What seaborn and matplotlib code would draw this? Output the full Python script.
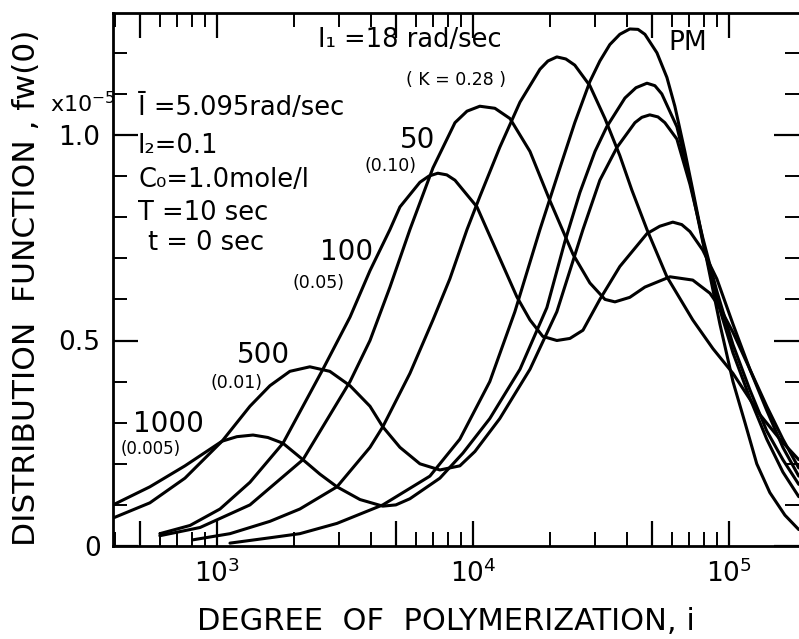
import numpy as np
import pandas as pd
import matplotlib
matplotlib.use("Agg")
import matplotlib.pyplot as plt
import seaborn as sns
from matplotlib.ticker import FixedLocator, LogLocator, MultipleLocator, FixedFormatter, NullFormatter

# ---- data: log10(degree of polymerization) and fw(0) [x1e-5]
pm_logi = [3.051, 3.207, 3.324, 3.469, 3.648, 3.832, 3.949, 4.066, 4.164, 4.262, 4.340, 4.398,
           4.457, 4.496, 4.535, 4.574, 4.613, 4.645, 4.672, 4.719, 4.758, 4.789, 4.828, 4.859,
           4.906, 4.965, 5.016, 5.063, 5.109, 5.160, 5.219, 5.273]
pm_fw = [0.007, 0.02, 0.03, 0.055, 0.10, 0.17, 0.26, 0.40, 0.57, 0.77, 0.92, 1.03,
         1.13, 1.18, 1.22, 1.245, 1.258, 1.257, 1.245, 1.20, 1.14, 1.07, 0.96, 0.866,
         0.72, 0.54, 0.40, 0.30, 0.20, 0.13, 0.075, 0.04]

i1000_logi = [2.594, 2.738, 2.875, 3.020, 3.078, 3.141, 3.199, 3.258, 3.336, 3.402, 3.469, 3.559,
              3.648, 3.699, 3.754, 3.871, 3.961, 4.066, 4.184, 4.289, 4.359, 4.418, 4.477, 4.523,
              4.594, 4.637, 4.680, 4.711, 4.738, 4.797, 4.848, 4.898, 4.953, 5.016, 5.082, 5.148,
              5.211, 5.273]
i1000_fw = [0.10, 0.144, 0.195, 0.255, 0.266, 0.27, 0.264, 0.25, 0.21, 0.175, 0.144, 0.113,
            0.097, 0.10, 0.115, 0.165, 0.226, 0.31, 0.43, 0.58, 0.74, 0.86, 0.96, 1.02,
            1.09, 1.115, 1.126, 1.12, 1.10, 1.02, 0.89, 0.74, 0.60, 0.47, 0.36, 0.26,
            0.18, 0.12]

i500_logi = [2.594, 2.738, 2.875, 3.020, 3.129, 3.207, 3.285, 3.363, 3.441, 3.520, 3.598, 3.648,
             3.715, 3.793, 3.871, 3.949, 4.008, 4.105, 4.223, 4.328, 4.430, 4.496, 4.563, 4.633,
             4.660, 4.691, 4.723, 4.750, 4.797, 4.848, 4.898, 4.953, 5.016, 5.082, 5.148, 5.211,
             5.273]
i500_fw = [0.068, 0.105, 0.165, 0.255, 0.34, 0.39, 0.425, 0.436, 0.425, 0.39, 0.34, 0.29,
           0.24, 0.20, 0.185, 0.195, 0.23, 0.31, 0.43, 0.57, 0.77, 0.89, 0.97, 1.03,
           1.043, 1.049, 1.044, 1.03, 0.99, 0.88, 0.75, 0.62, 0.49, 0.38, 0.28, 0.21,
           0.15]

i100_logi = [2.777, 2.895, 3.012, 3.129, 3.258, 3.414, 3.520, 3.598, 3.676, 3.715, 3.793, 3.828,
             3.863, 3.898, 3.930, 4.016, 4.055, 4.105, 4.172, 4.223, 4.273, 4.328, 4.379, 4.430,
             4.496, 4.574, 4.680, 4.730, 4.781, 4.816, 4.848, 4.898, 4.953, 5.016, 5.082, 5.148,
             5.211, 5.273]
i100_fw = [0.03, 0.05, 0.09, 0.155, 0.25, 0.43, 0.557, 0.67, 0.77, 0.825, 0.885, 0.90,
           0.907, 0.903, 0.89, 0.825, 0.77, 0.70, 0.606, 0.55, 0.51, 0.50, 0.505, 0.525,
           0.60, 0.68, 0.76, 0.778, 0.788, 0.782, 0.765, 0.72, 0.65, 0.54, 0.43, 0.33,
           0.24, 0.17]

i50_logi = [2.777, 2.934, 3.129, 3.336, 3.520, 3.598, 3.676, 3.754, 3.844, 3.930, 3.977, 4.027,
            4.086, 4.145, 4.223, 4.301, 4.391, 4.457, 4.516, 4.555, 4.613, 4.672, 4.770, 4.859,
            4.926, 4.965, 5.016, 5.082, 5.148, 5.211, 5.273]
i50_fw = [0.025, 0.045, 0.10, 0.21, 0.40, 0.50, 0.63, 0.77, 0.92, 1.03, 1.058, 1.07,
          1.065, 1.04, 0.96, 0.84, 0.71, 0.64, 0.60, 0.594, 0.605, 0.63, 0.655, 0.647,
          0.615, 0.58, 0.52, 0.43, 0.34, 0.26, 0.19]

i18_logi = [2.906, 3.051, 3.207, 3.324, 3.469, 3.598, 3.648, 3.754, 3.844, 3.910, 3.977, 4.027,
            4.105, 4.184, 4.262, 4.293, 4.328, 4.363, 4.398, 4.457, 4.516, 4.574, 4.621, 4.680,
            4.758, 4.859, 4.938, 5.016, 5.121, 5.199, 5.273]
i18_fw = [0.015, 0.03, 0.06, 0.09, 0.144, 0.24, 0.29, 0.42, 0.55, 0.65, 0.77, 0.85,
          0.97, 1.08, 1.16, 1.18, 1.19, 1.185, 1.17, 1.12, 1.04, 0.95, 0.866, 0.77,
          0.655, 0.55, 0.48, 0.42, 0.32, 0.26, 0.21]

curve_names = ["PM", "1000", "500", "100", "50", "18"]
curve_logi = [pm_logi, i1000_logi, i500_logi, i100_logi, i50_logi, i18_logi]
curve_fw = [pm_fw, i1000_fw, i500_fw, i100_fw, i50_fw, i18_fw]

x_tick_values = [5e2, 1e3, 5e3, 1e4, 5e4, 1e5]
x_tick_labels = ["", r"$10^3$", "", r"$10^4$", "", r"$10^5$"]
y_tick_values = [0, 0.5, 1.0]
y_tick_labels = ["0", "0.5", "1.0"]

frames = []
for name, lx, fw in zip(curve_names, curve_logi, curve_fw):
    frames.append(pd.DataFrame({"DP": np.power(10.0, lx), "fw": fw, "curve": name}))
df = pd.concat(frames, ignore_index=True)

sns.set_theme(style="ticks")
plt.rcParams["font.family"] = ["DejaVu Sans"]
plt.rcParams["mathtext.fontset"] = "dejavusans"
plt.rcParams["text.color"] = "black"
plt.rcParams["axes.labelcolor"] = "black"
plt.rcParams["lines.solid_joinstyle"] = "round"

W, H = 799, 639
fig = plt.figure(figsize=(W / 100, H / 100), dpi=100)
ax = fig.add_axes([113 / W, (H - 546) / H, (W - 113) / W, (546 - 13) / H])

sns.lineplot(data=df, x="DP", y="fw", hue="curve", palette={n: "black" for n in curve_names},
             estimator=None, sort=False, legend=False, linewidth=2.2, ax=ax)

ax.set_xscale("log")
ax.set_xlim(10 ** 2.594, 10 ** 5.274)
ax.set_ylim(0, 533 / 411)

ax.xaxis.set_major_locator(FixedLocator(x_tick_values))
ax.xaxis.set_major_formatter(FixedFormatter(x_tick_labels))
ax.xaxis.set_minor_locator(LogLocator(base=10, subs=[2, 3, 4, 6, 7, 8, 9]))
ax.xaxis.set_minor_formatter(NullFormatter())
ax.yaxis.set_major_locator(FixedLocator(y_tick_values))
ax.yaxis.set_major_formatter(FixedFormatter(y_tick_labels))
ax.yaxis.set_minor_locator(MultipleLocator(0.1))

ax.tick_params(axis="both", which="both", direction="in", top=True, right=True,
               color="black", labelcolor="black", labelsize=19)
ax.tick_params(axis="both", which="major", length=18, width=1.6)
ax.tick_params(axis="both", which="minor", length=10, width=1.4)
ax.tick_params(axis="x", which="major", pad=10)
ax.tick_params(axis="y", which="major", pad=9)

for s in ["left", "bottom", "top"]:
    ax.spines[s].set_linewidth(2.0)
    ax.spines[s].set_color("black")
ax.spines["right"].set_visible(False)

ax.set_xlabel("DEGREE  OF  POLYMERIZATION, i", fontsize=22, color="black")
ax.xaxis.set_label_coords((446 - 113) / 686, (546 - 621) / 533)
ax.xaxis.label.set_va("center")
ax.set_ylabel("DISTRIBUTION  FUNCTION , fw(0)", fontsize=22.5, color="black")
ax.yaxis.set_label_coords((27 - 113) / 686, (546 - 288) / 533)
ax.yaxis.label.set_va("center")


def ftext(x, y, s, size, ha="center", va="center"):
    fig.text(x / W, 1 - y / H, s, fontsize=size, ha=ha, va=va, color="black")


ftext(50, 104, r"x10$^{-5}$", 16, ha="left")

ftext(138, 108, "Ī =5.095rad/sec", 18.5, ha="left")
ftext(138, 146, "I₂=0.1", 18.5, ha="left")
ftext(138, 180, "C₀=1.0mole/l", 18.5, ha="left")
ftext(138, 213, "T =10 sec", 18.5, ha="left")
ftext(148, 243, "t = 0 sec", 18.5, ha="left")

ftext(318, 40, "I₁ =18 rad/sec", 18.5, ha="left")
ftext(456, 80, "( K = 0.28 )", 12.5)
ftext(418, 140, "50", 20)
ftext(390, 166, "(0.10)", 12.5)
ftext(347, 252, "100", 20)
ftext(318, 283, "(0.05)", 12.5)
ftext(263, 355, "500", 20)
ftext(237, 383, "(0.01)", 12.5)
ftext(168, 424, "1000", 20)
ftext(151, 449, "(0.005)", 12)
ftext(688, 43, "PM", 19)

fig.savefig("out.png", dpi=100, facecolor="white")
